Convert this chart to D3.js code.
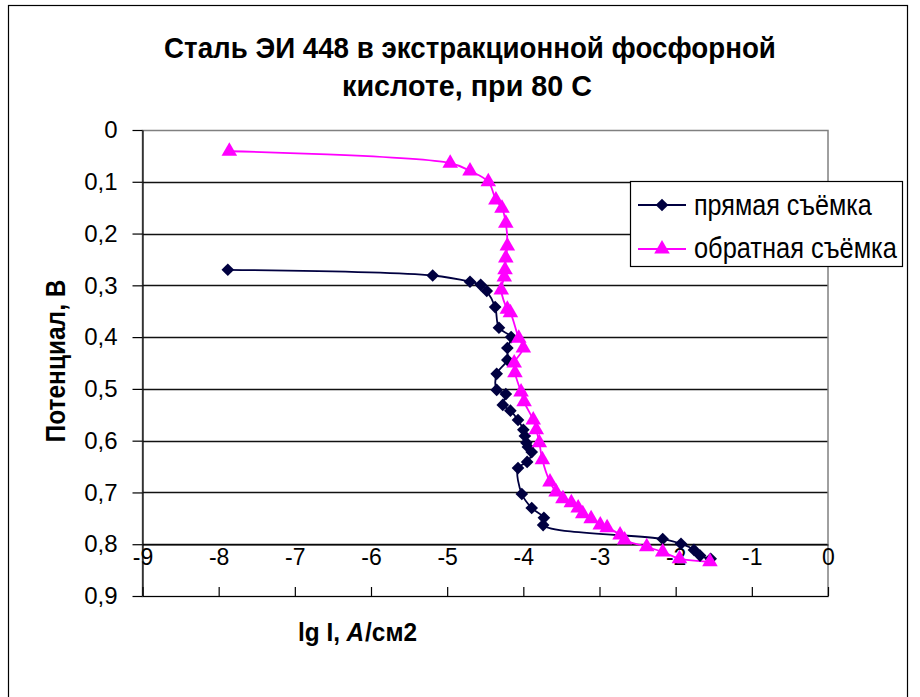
<!DOCTYPE html>
<html>
<head>
<meta charset="utf-8">
<script src="https://cdn.jsdelivr.net/npm/d3@7"></script>
<style>
  body { margin: 0; background: #fff; }
  svg text { font-family: "Liberation Sans", Arial, sans-serif; fill: #000; }
</style>
</head>
<body>
<div id="chart"></div>
<script>
// 1: DATA
const directLgI = [-7.88, -5.19, -4.70, -4.56, -4.48, -4.37, -4.32, -4.16, -4.21, -4.21, -4.35, -4.35, -4.23, -4.27, -4.17, -4.07, -4.00, -3.98, -3.96, -3.94, -3.89, -3.95, -4.07, -4.02, -3.89, -3.73, -3.74, -2.17, -1.93, -1.76, -1.68, -1.54];
const directE   = [0.270, 0.281, 0.293, 0.299, 0.311, 0.342, 0.382, 0.400, 0.421, 0.444, 0.471, 0.502, 0.510, 0.531, 0.542, 0.560, 0.579, 0.591, 0.604, 0.612, 0.622, 0.641, 0.653, 0.703, 0.730, 0.749, 0.763, 0.790, 0.799, 0.811, 0.822, 0.828];

const reverseLgI = [-7.86, -4.96, -4.70, -4.46, -4.36, -4.28, -4.23, -4.21, -4.23, -4.24, -4.25, -4.29, -4.21, -4.17, -4.06, -4.00, -4.12, -4.11, -4.03, -3.99, -3.87, -3.83, -3.79, -3.75, -3.65, -3.57, -3.48, -3.37, -3.28, -3.22, -3.11, -2.99, -2.90, -2.73, -2.67, -2.38, -2.17, -1.95, -1.55];
const reverseE   = [0.041, 0.064, 0.079, 0.100, 0.135, 0.151, 0.180, 0.224, 0.247, 0.270, 0.284, 0.309, 0.346, 0.353, 0.402, 0.421, 0.450, 0.469, 0.506, 0.525, 0.560, 0.579, 0.604, 0.637, 0.680, 0.699, 0.712, 0.720, 0.730, 0.741, 0.751, 0.763, 0.768, 0.782, 0.792, 0.805, 0.815, 0.828, 0.834];

const xTicks = [-9, -8, -7, -6, -5, -4, -3, -2, -1, 0];
const yTicks = [0, 0.1, 0.2, 0.3, 0.4, 0.5, 0.6, 0.7, 0.8, 0.9];
const xCross = 0.8;   // x axis crosses the value axis here

const titleLines = ["Сталь ЭИ 448 в экстракционной фосфорной", "кислоте, при 80 С"];
const yTitle = "Потенциал, В";
const xTitleParts = ["lg I,", "A", "/см2"];
const seriesNames = ["прямая съёмка", "обратная съёмка"];

const navy = "#000040";
const magenta = "#ff00ff";

// 2: SVG
const W = 920, H = 697;
const svg = d3.select("#chart").append("svg")
    .attr("width", W)
    .attr("height", H);

// chart area border
svg.append("rect")
    .attr("x", 8.5).attr("y", 5.5)
    .attr("width", 899).attr("height", 720)
    .attr("fill", "#fff")
    .attr("stroke", "#000")
    .attr("stroke-width", 1.2);

// text squeezed horizontally to a given width, like the original
function fitText(parent, str, x, y, size, len, bold, anchor, rot) {
    const g = parent.append("g");
    const t = g.append("text")
        .attr("font-size", size)
        .attr("font-weight", bold ? "bold" : "normal")
        .attr("text-anchor", anchor || "start")
        .text(str);
    const k = len / t.node().getComputedTextLength();
    g.attr("transform", `translate(${x},${y}) rotate(${rot || 0}) scale(${k},1)`);
    return t;
}

// 3: SCALES
const x = d3.scaleLinear().domain([-9, 0]).range([142.5, 828]);
const y = d3.scaleLinear().domain([0, 0.9]).range([130, 596]);

// gridlines
svg.append("g")
    .selectAll("line")
    .data(yTicks.filter(d => d > 0 && d < 0.9))
    .enter()
    .append("line")
    .attr("x1", x(-9)).attr("x2", x(0))
    .attr("y1", d => Math.round(y(d)) + 0.5)
    .attr("y2", d => Math.round(y(d)) + 0.5)
    .attr("stroke", "#111")
    .attr("stroke-width", 1.3);

// plot area border
svg.append("rect")
    .attr("x", x(-9)).attr("y", y(0) + 0.5)
    .attr("width", x(0) - x(-9))
    .attr("height", y(0.9) - y(0))
    .attr("fill", "none")
    .attr("stroke", "#808080")
    .attr("stroke-width", 1.5);

// 4: AXES
const fmtY = d => d === 0 ? "0" : d.toFixed(1).replace(".", ",");

const yAxis = svg.append("g")
    .attr("transform", `translate(${x(-9)},0)`)
    .call(d3.axisLeft(y).tickValues(yTicks).tickFormat(fmtY)
        .tickSize(10).tickSizeOuter(0).tickPadding(15));
yAxis.selectAll("text").attr("font-size", 24);

// tick marks along the bottom edge
const xTickAxis = svg.append("g")
    .attr("transform", `translate(0,${y(0.9)})`)
    .call(d3.axisTop(x).tickValues(xTicks).tickFormat("")
        .tickSize(9).tickSizeOuter(0));

// x axis line with labels at 0.8
const xAxis = svg.append("g")
    .attr("transform", `translate(0,${Math.round(y(xCross)) + 0.5})`)
    .call(d3.axisBottom(x).tickValues(xTicks).tickFormat(d => d)
        .tickSize(0).tickSizeOuter(0).tickPadding(4));
xAxis.selectAll("text").attr("font-size", 23);

[yAxis, xTickAxis, xAxis].forEach(a => {
    a.selectAll("path, line").attr("stroke", "#000").attr("stroke-width", 1.2);
    a.selectAll("text").attr("fill", "#000").attr("font-family", "Liberation Sans, Arial, sans-serif");
});

// 5: SERIES
const line = d3.line()
    .x(d => x(d[0]))
    .y(d => y(d[1]))
    .curve(d3.curveCatmullRom.alpha(0.5));

const direct = directLgI.map((v, i) => [v, directE[i]]);
const reverse = reverseLgI.map((v, i) => [v, reverseE[i]]);

const diamond = d3.symbol().type(d3.symbolSquare).size(80);
const triangle = d3.symbol().type(d3.symbolTriangle).size(105);

svg.append("path")
    .attr("d", line(direct))
    .attr("fill", "none")
    .attr("stroke", navy)
    .attr("stroke-width", 1.8);

svg.append("path")
    .attr("d", line(reverse))
    .attr("fill", "none")
    .attr("stroke", magenta)
    .attr("stroke-width", 1.8);

svg.append("g")
    .selectAll("path")
    .data(direct)
    .enter()
    .append("path")
    .attr("d", diamond)
    .attr("transform", d => `translate(${x(d[0])},${y(d[1])}) rotate(45)`)
    .attr("fill", navy);

svg.append("g")
    .selectAll("path")
    .data(reverse)
    .enter()
    .append("path")
    .attr("d", triangle)
    .attr("transform", d => `translate(${x(d[0])},${y(d[1])})`)
    .attr("fill", magenta);

// 6: TITLES
fitText(svg, titleLines[0], 470, 58, 29, 612, true, "middle");
fitText(svg, titleLines[1], 467, 96, 29, 250, true, "middle");

fitText(svg, yTitle, 65, 361, 28, 163, true, "middle", -90);

// x title: three pieces laid side by side, then squeezed to width
const xtG = svg.append("g");
const gaps = [7, 1, 0];
let cursor = 0;
xTitleParts.forEach((s, i) => {
    const t = xtG.append("text")
        .attr("x", cursor)
        .attr("font-size", 26)
        .attr("font-weight", "bold")
        .attr("font-style", i === 1 ? "italic" : "normal")
        .text(s);
    cursor += t.node().getComputedTextLength() + gaps[i];
});
xtG.attr("transform", `translate(298,641) scale(${119 / cursor},1)`);

// 7: LEGEND
const legend = svg.append("g");
legend.append("rect")
    .attr("x", 630.5).attr("y", 181.5)
    .attr("width", 272).attr("height", 85)
    .attr("fill", "#fff")
    .attr("stroke", "#000")
    .attr("stroke-width", 1.2);

const legendRows = [
    { name: seriesNames[0], color: navy, sym: diamond, rot: 45, cy: 205, base: 215, len: 178 },
    { name: seriesNames[1], color: magenta, sym: triangle, rot: 0, cy: 249, base: 258, len: 203 }
];
legendRows.forEach(r => {
    legend.append("line")
        .attr("x1", 638).attr("x2", 686)
        .attr("y1", r.cy).attr("y2", r.cy)
        .attr("stroke", r.color).attr("stroke-width", 1.8);
    legend.append("path")
        .attr("d", r.sym)
        .attr("transform", `translate(662,${r.cy}) rotate(${r.rot})`)
        .attr("fill", r.color);
    fitText(legend, r.name, 694, r.base, 29, r.len, false, "start");
});
</script>
</body>
</html>
